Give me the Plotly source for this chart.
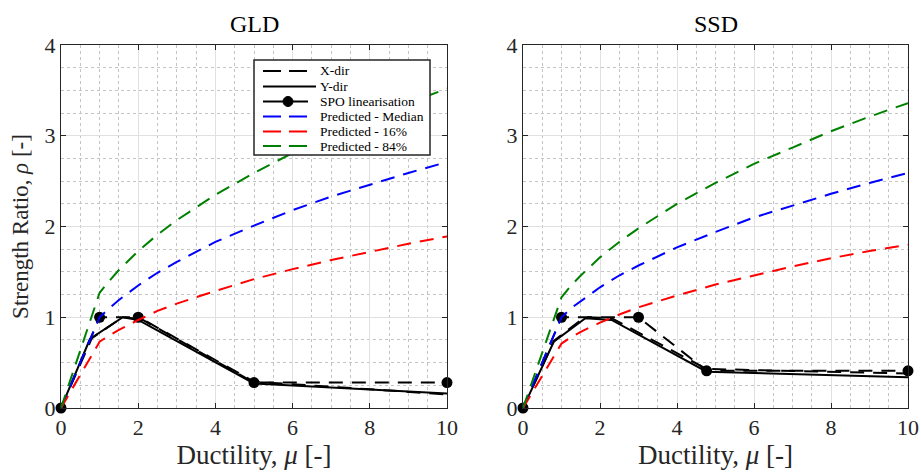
import plotly.graph_objects as go

# ---------------- data ----------------
mu_pred = [0, 1, 1.25, 1.5, 2, 2.5, 3, 4, 5, 6, 7, 8, 9, 10]
gld_median = [0, 1.00, 1.10, 1.19, 1.35, 1.49, 1.61, 1.83, 2.01, 2.18, 2.33, 2.46, 2.59, 2.71]
gld_p16 = [0, 0.73, 0.80, 0.86, 0.97, 1.07, 1.15, 1.29, 1.42, 1.53, 1.63, 1.72, 1.81, 1.89]
gld_p84 = [0, 1.27, 1.40, 1.52, 1.73, 1.91, 2.07, 2.35, 2.59, 2.81, 3.01, 3.19, 3.36, 3.52]
ssd_median = [0, 1.00, 1.10, 1.18, 1.33, 1.46, 1.57, 1.77, 1.94, 2.10, 2.23, 2.36, 2.48, 2.59]
ssd_p16 = [0, 0.71, 0.78, 0.84, 0.94, 1.03, 1.11, 1.24, 1.36, 1.46, 1.56, 1.65, 1.73, 1.80]
ssd_p84 = [0, 1.22, 1.35, 1.46, 1.66, 1.83, 1.98, 2.25, 2.48, 2.69, 2.87, 3.05, 3.21, 3.36]

gld_x_mu = [0, 0.8, 1.6, 2.1, 5.0, 10]
gld_x_rho = [0, 0.77, 1.00, 0.98, 0.29, 0.15]
gld_y_mu = [0, 0.75, 1.6, 2.0, 5.0, 10]
gld_y_rho = [0, 0.76, 1.00, 0.97, 0.27, 0.16]
gld_spo_mu = [0, 1, 2, 5, 10]
gld_spo_rho = [0, 1, 1, 0.28, 0.28]

ssd_x_mu = [0, 0.8, 1.6, 2.3, 4.77, 10]
ssd_x_rho = [0, 0.74, 1.00, 0.99, 0.43, 0.38]
ssd_y_mu = [0, 0.8, 1.62, 2.3, 4.77, 10]
ssd_y_rho = [0, 0.73, 0.99, 0.97, 0.40, 0.34]
ssd_spo_mu = [0, 1, 3, 4.77, 10]
ssd_spo_rho = [0, 1, 1, 0.41, 0.41]

titles = ["GLD", "SSD"]
x_ticks = [0, 2, 4, 6, 8, 10]
y_ticks = [0, 1, 2, 3, 4]
legend_labels = ["X-dir", "Y-dir", "SPO linearisation", "Predicted - Median",
                 "Predicted - 16%", "Predicted - 84%"]

FONT = "Liberation Serif"
DASH = "14px,9px"
BLUE, RED, GREEN = "#0000ff", "#ff0000", "#008000"

fig = go.Figure()

panels = [
    ("x", "y", gld_x_mu, gld_x_rho, gld_y_mu, gld_y_rho, gld_spo_mu, gld_spo_rho,
     gld_median, gld_p16, gld_p84),
    ("x2", "y2", ssd_x_mu, ssd_x_rho, ssd_y_mu, ssd_y_rho, ssd_spo_mu, ssd_spo_rho,
     ssd_median, ssd_p16, ssd_p84),
]

for i, (xa, ya, xm, xr, ym, yr, sm, sr, med, p16, p84) in enumerate(panels):
    fig.add_trace(go.Scatter(x=xm, y=xr, mode="lines", name=legend_labels[0], xaxis=xa, yaxis=ya,
                             line=dict(color="black", width=2, dash=DASH), showlegend=False))
    fig.add_trace(go.Scatter(x=ym, y=yr, mode="lines", name=legend_labels[1], xaxis=xa, yaxis=ya,
                             line=dict(color="black", width=2), showlegend=False))
    fig.add_trace(go.Scatter(x=sm, y=sr, mode="lines+markers", name=legend_labels[2],
                             xaxis=xa, yaxis=ya, cliponaxis=False,
                             line=dict(color="black", width=2, dash=DASH),
                             marker=dict(color="black", size=11, symbol="circle"),
                             showlegend=False))
    fig.add_trace(go.Scatter(x=mu_pred, y=med, mode="lines", name=legend_labels[3],
                             xaxis=xa, yaxis=ya, line=dict(color=BLUE, width=2, dash=DASH),
                             showlegend=False))
    fig.add_trace(go.Scatter(x=mu_pred, y=p16, mode="lines", name=legend_labels[4],
                             xaxis=xa, yaxis=ya, line=dict(color=RED, width=2, dash=DASH),
                             showlegend=False))
    fig.add_trace(go.Scatter(x=mu_pred, y=p84, mode="lines", name=legend_labels[5],
                             xaxis=xa, yaxis=ya, line=dict(color=GREEN, width=2, dash=DASH),
                             showlegend=False))

W, H = 921, 475
TOP, BOT = 45, 408
dom_left = [61 / W, 447 / W]
dom_right = [523 / W, 908 / W]


def px(xpix):
    return xpix / W


def py(ypix):
    return (BOT - ypix) / (BOT - TOP)


axis_common = dict(
    showline=True, linecolor="#262626", linewidth=1, mirror="allticks",
    ticks="inside", ticklen=5, tickcolor="#262626",
    showgrid=True, gridcolor="#e0e0e0", gridwidth=1, zeroline=False,
    tickfont=dict(family=FONT, size=22, color="#262626"),
    automargin=False,
)

xaxis_common = dict(axis_common, range=[0, 10], tickvals=x_ticks,
                    minor=dict(dtick=0.5, showgrid=True, gridcolor="#c4c4c4", griddash="dot",
                               gridwidth=1, ticks=""),
                    title=dict(text="Ductility, <i>μ</i> [-]",
                               font=dict(family=FONT, size=27, color="#262626"), standoff=1))
yaxis_common = dict(axis_common, range=[0, 4], tickvals=y_ticks,
                    minor=dict(dtick=0.25, showgrid=True, gridcolor="#c4c4c4", griddash="dot",
                               gridwidth=1, ticks=""))

fig.update_layout(
    width=W, height=H,
    margin=dict(l=0, r=0, t=TOP, b=H - BOT),
    paper_bgcolor="white", plot_bgcolor="white",
    font=dict(family=FONT, color="black"),
    xaxis=dict(xaxis_common, domain=dom_left, anchor="y"),
    yaxis=dict(yaxis_common, domain=[0, 1], anchor="x",
               title=dict(text="Strength Ratio, <i>ρ</i> [-]",
                          font=dict(family=FONT, size=23, color="#262626"), standoff=9)),
    xaxis2=dict(xaxis_common, domain=dom_right, anchor="y2"),
    yaxis2=dict(yaxis_common, domain=[0, 1], anchor="x2"),
    showlegend=False,
)

for i, t in enumerate(titles):
    dom = dom_left if i == 0 else dom_right
    fig.add_annotation(text=t, xref="paper", yref="paper", x=(dom[0] + dom[1]) / 2, y=1,
                       xanchor="center", yanchor="bottom", yshift=6, showarrow=False,
                       font=dict(family=FONT, size=24, color="black"))

# ---------------- hand-built legend (MATLAB-like compact box) ----------------
box = dict(x0=254, x1=430, y0=60, y1=155)
fig.add_shape(type="rect", xref="paper", yref="paper",
              x0=px(box["x0"]), x1=px(box["x1"]), y0=py(box["y1"]), y1=py(box["y0"]),
              line=dict(color="#262626", width=1.5), fillcolor="white", layer="above")
leg_styles = [
    ("black", "18px,8px", False),
    ("black", "solid", False),
    ("black", "solid", True),
    (BLUE, "18px,8px", False),
    (RED, "18px,8px", False),
    (GREEN, "18px,8px", False),
]
row_y = [71, 86.5, 101.5, 116.5, 131.5, 146]
for (col, dash, mark), lab, yy in zip(leg_styles, legend_labels, row_y):
    x_end = 316 if dash == "solid" and not mark else 308
    fig.add_shape(type="line", xref="paper", yref="paper",
                  x0=px(263), x1=px(x_end), y0=py(yy), y1=py(yy),
                  line=dict(color=col, width=2, dash=dash), layer="above")
    if mark:
        fig.add_shape(type="circle", xref="paper", yref="paper",
                      x0=px(283), x1=px(293), y0=py(yy + 5), y1=py(yy - 5),
                      line=dict(color="black", width=1), fillcolor="black", layer="above")
    fig.add_annotation(text=lab, xref="paper", yref="paper", x=px(318), y=py(yy),
                       xanchor="left", yanchor="middle", showarrow=False,
                       font=dict(family=FONT, size=13.5, color="black"))

fig.write_html("out.html")
